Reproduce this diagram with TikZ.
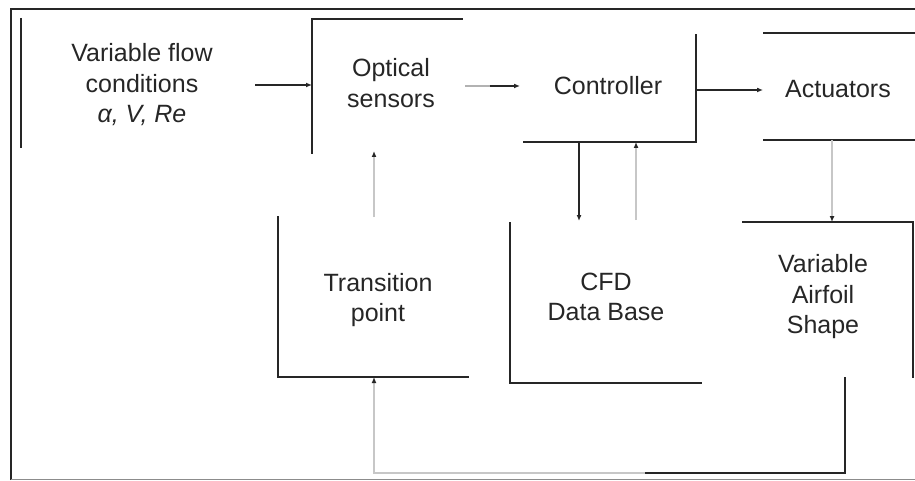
\documentclass[tikz,border=0pt]{standalone}
\usepackage{fontspec}
\setmainfont{Liberation Sans}
\usetikzlibrary{arrows.meta,calc}
\begin{document}
\begin{tikzpicture}[x=1pt,y=-1pt,
  edge/.style={line width=1.8pt,draw=black!85},
  frame/.style={line width=1.4pt,draw=black!85},
  txt/.style={inner sep=0pt,align=center,font=\fontsize{25}{30.5}\selectfont,text=black!85},
  darrow/.style={line width=1.8pt,draw=black!85,-{Latex[length=6pt,width=5pt]}},
  larrow/.style={line width=1.4pt,draw=black!22,-{Latex[length=6pt,width=5pt,color=black!85]}}]
\useasboundingbox (0,0) rectangle (915,481);
% outer frame
\draw[frame] (11,480) -- (11,9) -- (915,9);
\draw[line width=1.2pt,draw=black!45] (11,479.5) -- (915,479.5);
% text nodes
\node[txt] (vfc) at (142,85) {Variable flow\\conditions\\\textit{α, V, Re}};
\node[txt] (os) at (391,83) {Optical\\sensors};
\node[txt] (ctrl) at (608,86) {Controller};
\node[txt] (act) at (838,89) {Actuators};
\node[txt] (tp) at (378,300) {Transition\\point};
\node[txt] (cfd) at (606,297) {CFD\\Data Base};
\node[txt] (vas) at (823,297) {Variable\\Airfoil\\Shape};
% visible box edges
\draw[edge] (21,18) -- (21,148);
\draw[edge] (312,154) -- (312,19) -- (463,19);
\draw[edge] (523,142) -- (696,142) -- (696,34);
\draw[edge] (763,33) -- (915,33);
\draw[edge] (763,140) -- (915,140);
\draw[edge] (278,216) -- (278,377) -- (469,377);
\draw[edge] (510,222) -- (510,383) -- (702,383);
\draw[edge] (742,222) -- (913,222) -- (913,378);
% connector coordinates
\coordinate (vfcR) at (255,85);
\coordinate (osL) at (312,85);
\coordinate (osR) at (465,86);
\coordinate (ctrlL) at (520,86);
\coordinate (ctrlR) at (696,90);
\coordinate (actL) at (763,90);
\coordinate (ctrlB1) at (579,142);
\coordinate (cfdT1) at (579,221);
\coordinate (ctrlB2) at (636,142);
\coordinate (cfdT2) at (636,220);
\coordinate (osB) at (374,151);
\coordinate (tpT) at (374,217);
\coordinate (actB) at (832,140);
\coordinate (vasT) at (832,222);
\coordinate (vasB) at (845,377);
\coordinate (c1) at (845,473);
\coordinate (c2) at (645,473);
\coordinate (c3) at (374,473);
\coordinate (tpB) at (374,377);
\coordinate (osRmid) at ($ (osR)!0.45!(ctrlL) $);
% connectors
\draw[darrow] (vfcR) -- (osL);
\draw[line width=1.6pt,draw=black!30] (osR) -- (osRmid);
\draw[darrow] (osRmid) -- (ctrlL);
\draw[darrow] (ctrlR) -- (actL);
\draw[darrow] (ctrlB1) -- (cfdT1);
\draw[larrow] (cfdT2) -- (ctrlB2);
\draw[larrow] (tpT) -- (osB);
\draw[larrow] (actB) -- (vasT);
\draw[edge] (vasB) -- (c1) -- (c2);
\draw[larrow] (c2) -- (c3) -- (tpB);
\end{tikzpicture}
\end{document}
